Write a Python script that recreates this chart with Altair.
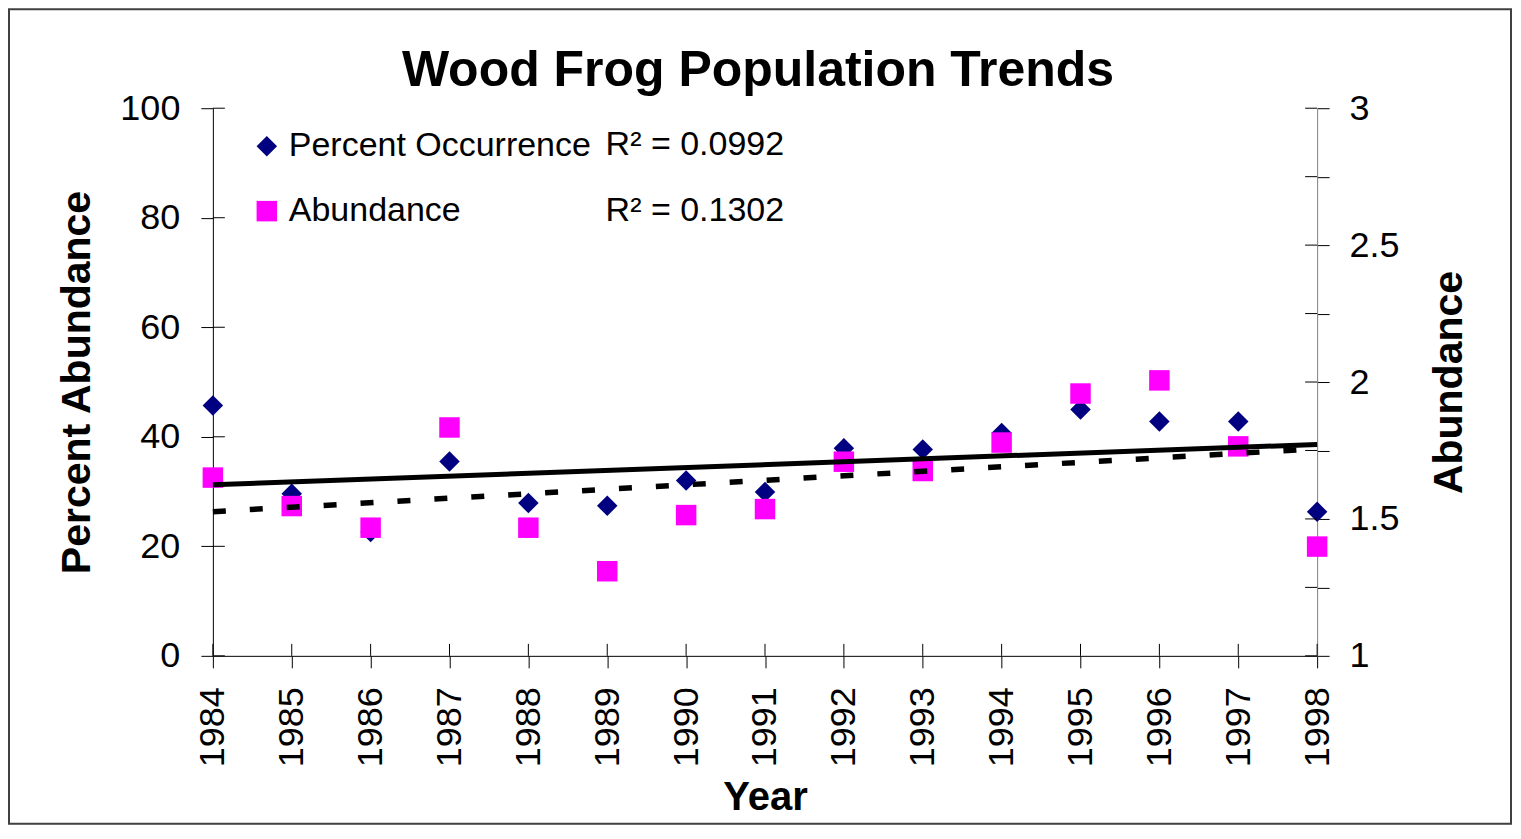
import altair as alt
import pandas as pd

# ---- data ----
years = list(range(1984, 1999))
pct_occurrence = [45.7, 29.6, 22.6, 35.5, 27.9, 27.4, 32.0, 29.9, 37.9, 37.7, 40.7, 45.0, 42.8, 42.8, 26.3]
abundance = [1.651, 1.547, 1.468, 1.834, 1.468, 1.309, 1.514, 1.536, 1.709, 1.675, 1.779, 1.958, 2.006, 1.765, 1.399]
series_names = ["Percent Occurrence", "Abundance"]
r2_labels = ["R\u00b2 = 0.0992", "R\u00b2 = 0.1302"]
left_ticks_vals = [0, 20, 40, 60, 80, 100]
right_ticks_vals = [1, 1.25, 1.5, 1.75, 2, 2.25, 2.5, 2.75, 3]

FONT = "Liberation Sans"
W, H = 1105, 548

df = pd.DataFrame({"year": years, "pct": pct_occurrence, "abund": abundance})

x_enc = alt.X(
    "year:Q",
    scale=alt.Scale(domain=[1984, 1998], nice=False, zero=False),
    axis=alt.Axis(
        values=years, format="d", labelAngle=270, labelFontSize=36, labelFont=FONT,
        labelColor="black", tickSize=12, tickColor="black", domainColor="black",
        labelPadding=19, grid=False, labelOverlap=False, labelFlush=False,
        title="Year", titleFontSize=40, titleFont=FONT, titleFontWeight="bold",
        titleColor="black", titleBaseline="alphabetic", titleY=154,
    ),
)

left_scale = alt.Scale(domain=[0, 100], nice=False, zero=False)
right_scale = alt.Scale(domain=[1, 3], nice=False, zero=False)

legend = alt.Legend(
    orient="none", legendX=37, legendY=21, title=None, labelFontSize=34, labelFont=FONT,
    labelColor="black", symbolSize=420, labelOffset=5, rowPadding=31, padding=0,
    symbolStrokeWidth=0, symbolOpacity=1, labelLimit=0,
)
color_enc = alt.Color("series:N", scale=alt.Scale(domain=series_names, range=["#000080", "#FF00FF"]), legend=legend)
shape_enc = alt.Shape("series:N", scale=alt.Scale(domain=series_names, range=["diamond", "square"]), legend=legend)

base = alt.Chart(df)

pct_points = base.transform_calculate(series="'Percent Occurrence'").mark_point(
    filled=True, size=420, opacity=1
).encode(
    x=x_enc,
    y=alt.Y("pct:Q", scale=left_scale, axis=alt.Axis(
        orient="left", values=left_ticks_vals, labelFontSize=36, labelFont=FONT, labelColor="black",
        tickSize=12, tickColor="black", domainColor="black", labelPadding=21, grid=False,
        title="Percent Abundance", titleFontSize=41, titleFont=FONT, titleFontWeight="bold",
        titleColor="black", titleAngle=270, titleBaseline="alphabetic", titleX=-123, titleY=H / 2,
        titleAlign="center",
    )),
    color=color_enc,
    shape=shape_enc,
)

abund_points = base.transform_calculate(series="'Abundance'").mark_point(
    filled=True, size=420, opacity=1
).encode(
    x=x_enc,
    y=alt.Y("abund:Q", scale=right_scale, axis=alt.Axis(
        orient="right", values=right_ticks_vals, format="~g",
        labelExpr="datum.value % 0.5 == 0 ? datum.label : ''",
        labelFontSize=36, labelFont=FONT, labelColor="black",
        tickSize=12, tickColor="black", domainColor="#808080", labelPadding=20, grid=False,
        title="Abundance", titleFontSize=41, titleFont=FONT, titleFontWeight="bold",
        titleColor="black", titleAngle=270, titleBaseline="alphabetic", titleX=144, titleY=H / 2,
        titleAlign="center",
    )),
    color=color_enc,
    shape=shape_enc,
)

pct_reg = base.transform_regression("year", "pct").mark_line(color="black", strokeWidth=5).encode(
    x=x_enc, y=alt.Y("pct:Q", scale=left_scale, axis=None)
)
abund_reg = base.transform_regression("year", "abund").mark_line(
    color="black", strokeWidth=5.5, strokeDash=[13, 24]
).encode(
    x=x_enc, y=alt.Y("abund:Q", scale=right_scale, axis=None)
)

left_ticks = alt.Chart(pd.DataFrame({"pct": left_ticks_vals})).mark_rule(color="black", strokeWidth=1).encode(
    y=alt.Y("pct:Q", scale=left_scale, axis=None), x=alt.value(0), x2=alt.value(12)
)
right_ticks = alt.Chart(pd.DataFrame({"abund": right_ticks_vals})).mark_rule(color="black", strokeWidth=1).encode(
    y=alt.Y("abund:Q", scale=right_scale, axis=None), x=alt.value(W - 12), x2=alt.value(W)
)
x_ticks = base.mark_rule(color="black", strokeWidth=1).encode(
    x=x_enc, y=alt.value(H - 12), y2=alt.value(H)
)

r2_a = alt.Chart(pd.DataFrame({"t": [r2_labels[0]]})).mark_text(
    align="left", baseline="middle", fontSize=34, font=FONT, color="black"
).encode(text="t:N", x=alt.value(393), y=alt.value(37))
r2_b = alt.Chart(pd.DataFrame({"t": [r2_labels[1]]})).mark_text(
    align="left", baseline="middle", fontSize=34, font=FONT, color="black"
).encode(text="t:N", x=alt.value(393), y=alt.value(103))

frame = alt.Chart(pd.DataFrame({"a": [0]})).mark_rect(
    filled=False, stroke="#404040", strokeWidth=2, clip=False
).encode(x=alt.value(-204), x2=alt.value(W + 194), y=alt.value(-99), y2=alt.value(H + 168))

chart = alt.layer(
    frame, pct_points, abund_points, pct_reg, abund_reg, left_ticks, right_ticks, x_ticks, r2_a, r2_b
).resolve_scale(y="independent").properties(
    width=W, height=H,
    title=alt.TitleParams(
        "Wood Frog Population Trends", fontSize=50, font=FONT, fontWeight="bold", color="black",
        anchor="middle", dx=-7, offset=0, baseline="alphabetic", dy=128,
    ),
    autosize=alt.AutoSizeParams(type="none"),
    padding={"left": 205, "top": 100, "right": 196, "bottom": 170},
    background="white",
).configure_view(strokeWidth=0)

chart.save("out.html", embed_options={"renderer": "svg", "actions": False})
